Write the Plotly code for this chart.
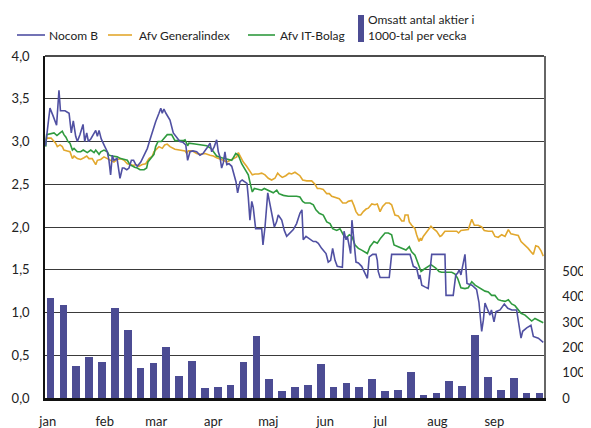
import plotly.graph_objects as go

# ---------------- data ----------------
month_labels = ["jan", "feb", "mar", "apr", "maj", "jun", "jul", "aug", "sep"]
month_start_day = [0, 31, 59, 90, 120, 151, 181, 212, 243]

# weekly turnover (thousands of shares), week centre as day-of-year
week_day = [3, 10, 17, 24, 31, 38, 45, 52, 59, 66, 73, 80, 87, 94, 101, 108, 115, 122, 129, 136,
            143, 150, 157, 164, 171, 178, 185, 192, 199, 206, 213, 220, 227, 234, 241, 248, 255, 262, 269]
volume = [395, 366, 126, 163, 142, 357, 268, 119, 137, 202, 87, 146, 38, 43, 53, 142, 246, 74, 28, 43,
          53, 133, 43, 58, 43, 74, 28, 33, 102, 13, 18, 67, 49, 248, 83, 33, 78, 18, 18]

nocom_day = [0.3, 2.7, 4.4, 6.3, 7.6, 8.4, 10.9, 13.1, 14.3, 15.4, 16.7, 17.6, 19.0, 20.7, 21.6, 22.7, 23.6, 24.9,
             27.6, 28.5, 29.4, 30.6, 32.1, 33.9, 34.8, 35.7, 36.6, 37.5, 39.2, 40.8, 42.1, 43.0, 44.5, 45.7, 47.0,
             48.2, 49.4, 50.2, 52.1, 53.9, 55.7, 57.1, 58.4, 60.2, 62.0, 63.0, 63.8, 64.7, 65.8, 66.9, 68.0, 69.8,
             71.3, 72.4, 73.4, 75.1, 76.6, 77.6, 78.9, 80.5, 82.5, 84.3, 86.0, 88.0, 89.8, 90.7, 92.1, 93.4, 94.3,
             95.2, 96.1, 97.0, 97.9, 98.9, 100.1, 101.6, 102.8, 103.9, 104.8, 106.1, 107.3, 108.5, 109.9, 110.6,
             111.5, 112.5, 113.3, 114.6, 116.2, 117.9, 118.6, 119.7, 121.2, 122.4, 123.7, 124.8, 126.0, 126.9,
             128.8, 130.2, 131.5, 133.3, 135.1, 136.9, 138.7, 139.8, 140.5, 142.0, 143.3, 144.6, 146.0, 147.4,
             148.7, 150.5, 151.4, 152.9, 154.1, 155.4, 156.5, 157.8, 159.0, 161.8, 162.7, 163.8, 164.5, 165.6,
             166.3, 167.0, 167.7, 168.7, 169.2, 170.5, 172.3, 173.6, 175.4, 176.4, 178.3, 180.1, 180.8, 181.3,
             182.3, 187.3, 188.6, 198.6, 200.4, 202.2, 203.5, 204.0, 205.0, 206.7, 208.5, 210.4, 217.6, 218.2,
             222.1, 223.5, 224.5, 225.4, 226.3, 228.5, 229.6, 232.3, 234.8, 236.1, 237.6, 238.5, 239.4, 240.9,
             242.1, 242.9, 244.3, 245.4, 247.6, 249.9, 251.8, 254.0, 256.6, 259.0, 259.9, 262.1, 264.4, 265.7,
             268.4, 271.1]
nocom_val = [2.95, 3.39, 3.30, 3.19, 3.60, 3.36, 3.36, 3.33, 3.10, 3.24, 3.06, 3.00, 3.08, 3.20, 3.00, 3.10, 3.00, 3.03,
             3.13, 3.06, 3.13, 3.03, 2.96, 2.88, 2.78, 2.61, 2.84, 2.78, 2.80, 2.57, 2.69, 2.69, 2.67, 2.69, 2.78,
             2.78, 2.73, 2.71, 2.76, 2.84, 2.92, 3.02, 3.12, 3.23, 3.33, 3.39, 3.33, 3.38, 3.33, 3.29, 3.25, 3.10,
             3.06, 3.02, 3.00, 2.99, 2.96, 2.78, 2.88, 2.89, 2.88, 2.84, 2.86, 2.92, 2.98, 2.88, 2.94, 3.02, 2.88,
             2.82, 2.69, 2.75, 2.88, 2.73, 2.74, 2.71, 2.63, 2.53, 2.40, 2.53, 2.55, 2.53, 2.51, 2.35,
             2.08, 2.30, 2.23, 1.98, 1.98, 1.98, 1.79, 2.00, 2.40, 2.28, 2.14, 2.00, 2.06, 2.14,
             2.08, 1.96, 1.89, 1.93, 1.97, 2.04, 2.16, 2.20, 1.85, 1.89, 1.87, 1.85, 1.83, 1.83,
             1.81, 1.75, 1.73, 1.69, 1.59, 1.61, 1.75, 1.61, 1.54, 1.53, 1.95, 1.85, 1.89, 1.75,
             1.69, 2.08, 1.89, 1.69, 1.59, 1.58, 1.54, 1.48, 1.40, 1.65, 1.68, 1.68, 1.61, 1.48,
             1.41, 1.41, 1.68, 1.68, 1.54, 1.52, 1.39, 1.44, 1.32, 1.30, 1.28, 1.68, 1.68, 1.20,
             1.20, 1.44, 1.46, 1.50, 1.44, 1.68, 1.34, 1.32, 1.27, 1.12, 0.78, 0.91, 1.11, 1.03,
             0.97, 1.03, 0.89, 1.01, 1.03, 1.10, 1.05, 1.03, 1.03, 0.70, 0.78, 0.82, 0.85, 0.72,
             0.70, 0.65]

it_day = [0.4, 0.9, 4.9, 6.5, 8.2, 9.4, 10.3, 11.4, 12.5, 13.6, 14.9, 15.8, 17.6, 19.4, 20.8, 22.1, 23.0, 24.9,
          26.7, 27.6, 29.4, 30.3, 32.1, 33.9, 34.8, 36.6, 39.3, 41.2, 43.0, 44.8, 46.2, 47.5, 48.8, 50.2, 51.7,
          53.9, 55.3, 56.0, 57.5, 59.3, 60.2, 61.5, 63.3, 64.7, 66.5, 68.9, 70.7, 75.2, 76.2, 77.6, 78.3, 81.6,
          85.3, 88.0, 90.3, 91.6, 93.4, 96.1, 97.9, 99.7, 101.6, 103.8, 105.2, 107.0, 108.8, 110.6, 112.1, 112.8,
          113.9, 115.7, 117.9, 119.3, 121.2, 123.0, 124.2, 126.1, 127.3, 129.7, 132.4, 136.9, 138.7, 140.2,
          141.5, 144.2, 146.0, 147.4, 149.2, 151.4, 153.3, 155.1, 156.5, 158.7, 160.5, 162.3, 163.8, 165.6,
          167.0, 168.7, 170.5, 172.3, 174.1, 175.4, 176.8, 179.0, 180.8, 182.6, 185.0, 186.8, 188.6, 189.9,
          192.2, 194.9, 196.4, 198.2, 199.5, 201.3, 202.8, 204.6, 205.8, 208.2, 210.0, 211.3, 212.6, 214.4,
          215.8, 218.6, 221.3, 223.1, 224.5, 226.3, 228.5, 230.3, 232.2, 234.0, 235.7, 237.6, 239.4, 241.2,
          243.0, 244.8, 246.6, 248.1, 250.3, 252.1, 253.9, 255.7, 257.5, 259.0, 261.2, 262.9, 264.8, 266.6,
          268.4, 271.1]
it_val = [2.94, 3.08, 3.10, 3.07, 3.10, 3.12, 3.08, 3.05, 3.00, 2.98, 2.90, 2.92, 2.88, 2.88, 2.90, 2.88, 2.87, 2.90,
          2.87, 2.90, 2.85, 2.88, 2.90, 2.88, 2.84, 2.83, 2.82, 2.80, 2.79, 2.78, 2.73, 2.71, 2.70, 2.69, 2.67,
          2.67, 2.69, 2.76, 2.80, 2.85, 2.94, 3.00, 3.00, 3.04, 3.08, 3.08, 3.01, 3.01, 3.02, 2.95, 2.98, 2.97,
          2.96, 2.95, 2.92, 2.88, 2.83, 2.81, 2.80, 2.79, 2.78, 2.86, 2.84, 2.74, 2.67, 2.61, 2.47, 2.41,
          2.45, 2.44, 2.43, 2.45, 2.43, 2.41, 2.40, 2.43, 2.39, 2.37, 2.36, 2.36, 2.35, 2.30,
          2.28, 2.28, 2.26, 2.20, 2.16, 2.14, 2.06, 2.04, 1.98, 1.96, 1.98, 1.91, 1.87, 1.91,
          1.89, 1.79, 1.75, 1.73, 1.71, 1.69, 1.77, 1.83, 1.81, 1.87, 1.93, 1.93, 1.91, 1.79,
          1.77, 1.75, 1.73, 1.77, 1.71, 1.67, 1.59, 1.48, 1.50, 1.54, 1.56, 1.54, 1.52, 1.48,
          1.47, 1.47, 1.47, 1.45, 1.40, 1.29, 1.28, 1.29, 1.36, 1.32, 1.30, 1.28, 1.25, 1.24,
          1.20, 1.20, 1.15, 1.14, 1.13, 1.15, 1.10, 1.08, 1.03, 0.99, 0.97, 0.94, 0.90, 0.93,
          0.91, 0.88]

gen_day = [0.4, 1.3, 3.3, 4.9, 5.8, 6.7, 8.2, 9.4, 10.3, 12.1, 13.6, 14.9, 15.8, 17.6, 19.4, 21.2, 22.7, 23.9,
           25.7, 27.6, 28.5, 30.3, 32.1, 33.9, 35.7, 37.5, 39.3, 41.2, 43.0, 44.8, 46.6, 48.0, 49.4, 51.1, 52.9,
           54.8, 56.6, 58.4, 59.3, 60.8, 62.0, 63.8, 65.1, 66.5, 68.0, 70.7, 73.4, 76.2, 77.1, 78.0, 80.0, 82.5,
           84.3, 87.1, 89.8, 91.6, 93.4, 95.2, 97.0, 98.9, 100.7, 102.4, 104.3, 105.2, 106.1, 107.9, 109.7, 111.5,
           112.8, 114.3, 116.1, 117.9, 119.7, 121.5, 123.3, 125.1, 126.6, 127.9, 129.1, 131.0, 132.8, 134.2,
           136.0, 138.7, 140.2, 142.4, 145.1, 146.9, 148.2, 149.6, 151.4, 153.3, 154.7, 156.0, 157.8, 160.1,
           162.0, 163.8, 165.0, 166.9, 168.1, 169.2, 170.5, 171.8, 173.2, 174.7, 175.9, 177.8, 179.5, 180.8,
           182.3, 183.7, 185.5, 187.3, 188.6, 190.4, 192.2, 194.1, 195.3, 195.9, 197.5, 198.2, 199.5, 201.3,
           202.2, 203.5, 204.3, 204.8, 205.8, 207.7, 210.0, 211.3, 213.1, 214.9, 215.8, 217.6, 221.3, 224.0,
           225.0, 226.3, 230.3, 232.2, 233.6, 235.7, 237.6, 239.0, 241.2, 243.4, 244.8, 246.6, 248.5, 250.3,
           252.1, 253.5, 255.7, 257.5, 259.0, 261.2, 262.9, 264.8, 265.7, 267.0, 268.4, 269.9, 271.1]
gen_val = [3.02, 3.04, 3.04, 3.00, 2.98, 2.94, 2.96, 2.94, 2.90, 2.89, 2.88, 2.80, 2.83, 2.80, 2.79, 2.81, 2.83, 2.80,
           2.80, 2.73, 2.78, 2.79, 2.82, 2.80, 2.78, 2.76, 2.79, 2.80, 2.78, 2.74, 2.73, 2.72, 2.73, 2.71, 2.73,
           2.74, 2.80, 2.83, 2.88, 2.92, 2.94, 2.92, 2.96, 2.97, 2.94, 2.91, 2.90, 2.89, 2.86, 2.89, 2.89, 2.86,
           2.85, 2.86, 2.84, 2.83, 2.81, 2.79, 2.78, 2.76, 2.78, 2.79, 2.82, 2.87, 2.83, 2.76, 2.71, 2.65,
           2.61, 2.62, 2.62, 2.63, 2.61, 2.57, 2.55, 2.57, 2.63, 2.60, 2.58, 2.60, 2.63, 2.62,
           2.64, 2.60, 2.55, 2.54, 2.54, 2.50, 2.45, 2.45, 2.44, 2.39, 2.39, 2.36, 2.35, 2.33,
           2.28, 2.28, 2.30, 2.31, 2.25, 2.18, 2.14, 2.14, 2.18, 2.21, 2.22, 2.27, 2.26, 2.27,
           2.18, 2.24, 2.28, 2.28, 2.26, 2.14, 2.13, 2.07, 2.07, 2.14, 2.14, 2.06, 2.02, 1.98,
           1.91, 1.83, 1.87, 1.84, 1.89, 1.95, 2.01, 1.98, 1.95, 1.89, 1.90, 1.95, 1.95, 1.95,
           1.93, 1.96, 1.97, 2.09, 2.02, 2.02, 2.00, 1.96, 1.95, 1.95, 1.89, 1.88, 1.91, 1.89,
           1.97, 1.92, 1.91, 1.90, 1.83, 1.79, 1.75, 1.70, 1.68, 1.78, 1.77, 1.72, 1.66]

# ---------------- styling ----------------
C_NOCOM = "#5050a2"
C_GEN = "#e2a82e"
C_IT = "#2f9a3e"
C_BAR = "#4c4c93"
FONT = "Lato"

fig = go.Figure()
fig.add_trace(go.Bar(x=week_day, y=volume, yaxis="y2", width=4.2,
                     marker=dict(color=C_BAR, line=dict(width=0)), name="Omsatt"))
fig.add_trace(go.Scatter(x=gen_day, y=gen_val, mode="lines", line=dict(color=C_GEN, width=1.6),
                         name="Afv Generalindex"))
fig.add_trace(go.Scatter(x=it_day, y=it_val, mode="lines", line=dict(color=C_IT, width=1.6),
                         name="Afv IT-Bolag"))
fig.add_trace(go.Scatter(x=nocom_day, y=nocom_val, mode="lines", line=dict(color=C_NOCOM, width=1.6),
                         name="Nocom B"))

# plot area in window pixels (the page body adds an 8px offset)
OFF = 8
L, R, T, B = 45, 544, 56, 398
W, H = 591 - OFF, 428 - OFF


def px(xp):
    return (xp - L) / (R - L)


def py(yp):
    return (B - yp) / (B - T)


shapes = [
    dict(type="line", xref="paper", yref="paper", x0=0, x1=1, y0=1, y1=1,
         line=dict(color="#111", width=1.5), layer="above"),
]
annotations = []
legend_items = [
    (17, 45, 47, "Nocom B", C_NOCOM),
    (108, 132, 137, "Afv Generalindex", C_GEN),
    (248, 275, 278, "Afv IT-Bolag", C_IT),
]
for x0, x1, xt, txt, col in legend_items:
    shapes.append(dict(type="line", xref="paper", yref="paper", x0=px(x0), x1=px(x1),
                       y0=py(35), y1=py(35), line=dict(color=col, width=1.6)))
    annotations.append(dict(xref="paper", yref="paper", x=px(xt), y=py(35), text=txt,
                            showarrow=False, xanchor="left", yanchor="middle",
                            font=dict(family=FONT, size=12, color="#222")))
shapes.append(dict(type="rect", xref="paper", yref="paper", x0=px(358), x1=px(364),
                   y0=py(42), y1=py(15), fillcolor=C_BAR, line=dict(width=0)))
annotations.append(dict(xref="paper", yref="paper", x=px(366), y=py(27),
                        text="Omsatt antal aktier i<br>1000-tal per vecka",
                        showarrow=False, xanchor="left", yanchor="middle", align="left",
                        font=dict(family=FONT, size=12, color="#222")))

fig.update_layout(
    width=W, height=H,
    margin=dict(l=L - OFF, r=W - (R - OFF), t=T - OFF, b=H - (B - OFF), pad=0),
    plot_bgcolor="white", paper_bgcolor="white",
    separators=", ",
    showlegend=False,
    bargap=0,
    font=dict(family=FONT, size=13, color="#222"),
    shapes=shapes,
    annotations=annotations,
    xaxis=dict(range=[0, 271.5], tickmode="array", automargin=False,
               tickvals=[d + 1.5 for d in month_start_day], ticktext=month_labels,
               showgrid=False, zeroline=False, showline=True, linecolor="#111", linewidth=2.5,
               ticks="", ticklabelstandoff=10, tickfont=dict(size=13)),
    yaxis=dict(range=[0, 4], dtick=0.5, tick0=0, tickformat=".1f", automargin=False,
               showgrid=True, gridcolor="#3a3a3a", gridwidth=1.3, zeroline=False,
               showline=True, linecolor="#111", linewidth=1.5, ticks="",
               ticklabelstandoff=11, tickfont=dict(size=13)),
    yaxis2=dict(range=[0, 1350], overlaying="y", side="right", tickmode="array", automargin=False,
                tickvals=[0, 100, 200, 300, 400, 500], showgrid=False, zeroline=False,
                showline=True, linecolor="#666", linewidth=1.5, ticks="",
                ticklabelstandoff=14, tickfont=dict(size=13)),
)

fig.write_html("out.html")
